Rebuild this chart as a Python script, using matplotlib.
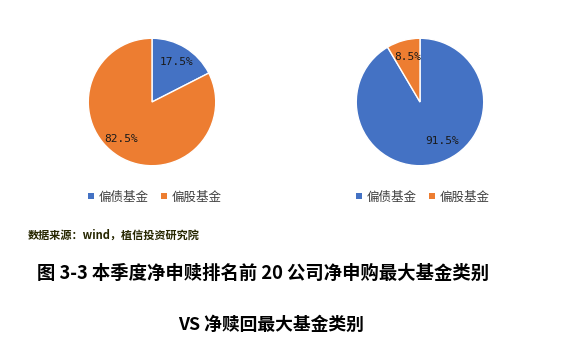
import matplotlib
matplotlib.use("Agg")
import matplotlib.pyplot as plt
from matplotlib.patches import Patch

plt.rcParams['font.family'] = ['Noto Sans CJK SC', 'DejaVu Sans']

categories = ["偏债基金", "偏股基金"]
net_purchase = [17.5, 82.5]     # 净申购最大基金类别 (%)
net_redemption = [91.5, 8.5]    # 净赎回最大基金类别 (%)
colors = ["#4472C4", "#ED7D31"]

source_text = "数据来源：wind，植信投资研究院"
title_line1 = "图 3-3 本季度净申赎排名前 20 公司净申购最大基金类别"
title_line2 = "VS 净赎回最大基金类别"

W, H = 581, 339
fig = plt.figure(figsize=(W / 100, H / 100), dpi=100)
fig.patch.set_facecolor("white")


def pie_axes(cx, cy, r):
    return fig.add_axes([(cx - r) / W, 1 - (cy + r) / H, 2 * r / W, 2 * r / H])


def draw_pie(ax, values, pctdist):
    wedges, texts, autotexts = ax.pie(
        values, colors=colors, startangle=90, counterclock=False,
        autopct=lambda p: f"{p:.1f}%", pctdistance=pctdist,
        wedgeprops=dict(edgecolor="white", linewidth=1.0),
        textprops=dict(fontsize=8, color="#1a1a1a",
                       family=["DejaVu Sans Mono", "DejaVu Sans"]))
    ax.set_xlim(-1.02, 1.02)
    ax.set_ylim(-1.02, 1.02)
    ax.set_aspect("equal")
    return autotexts


def draw_legend(cx, cy):
    handles = [Patch(facecolor=c, edgecolor="none") for c in colors]
    fig.legend(handles, categories, loc="center",
               bbox_to_anchor=(cx / W, 1 - cy / H), ncol=2, frameon=False,
               fontsize=9, handlelength=0.45, handleheight=0.45,
               handletextpad=0.4, columnspacing=1.0, labelcolor="#404040")


ax1 = pie_axes(152, 102, 65)
labels1 = draw_pie(ax1, net_purchase, 0.74)
ax2 = pie_axes(420, 102, 65)
labels2 = draw_pie(ax2, net_redemption, 0.74)
# nudge the large-slice labels a little off the bisector
x, y = labels2[0].get_position()
labels2[0].set_position((x + 0.15, y + 0.1))
x, y = labels1[1].get_position()
labels1[1].set_position((x - 0.1, y + 0.05))

draw_legend(155, 197)
draw_legend(423, 197)

fig.text(28 / W, 1 - 235 / H, source_text, fontsize=8, fontweight="bold",
         color="#262600", ha="left", va="center")
fig.text(263 / W, 1 - 273 / H, title_line1, fontsize=13.2, fontweight="bold",
         color="black", ha="center", va="center")
fig.text(271 / W, 1 - 325 / H, title_line2, fontsize=12.8, fontweight="bold",
         color="black", ha="center", va="center")

fig.savefig("out.png", dpi=100, facecolor="white")
